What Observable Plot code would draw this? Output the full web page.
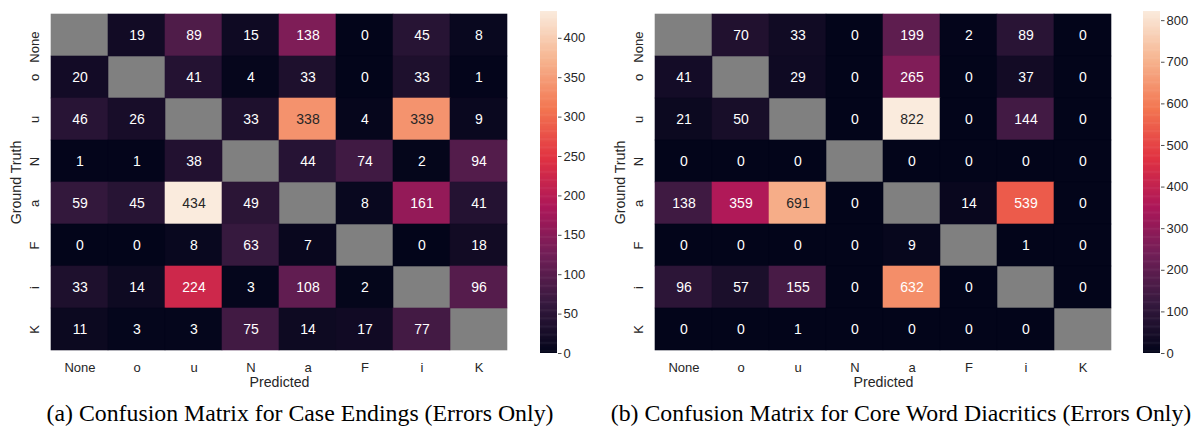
<!DOCTYPE html>
<html><head><meta charset="utf-8">
<script src="https://cdn.jsdelivr.net/npm/d3@7"></script>
<script src="https://cdn.jsdelivr.net/npm/@observablehq/plot@0.6"></script>
<style>
html,body{margin:0;padding:0;background:#fff;}
#root{position:relative;width:1199px;height:431px;overflow:hidden;background:#fff;}
#root svg{position:absolute;top:0;}
.cap{position:absolute;top:402px;width:640px;font-family:"Liberation Serif","Times New Roman",serif;font-size:23.8px;line-height:23.8px;white-space:nowrap;text-align:center;color:#000;}
</style></head><body><div id="root"></div>
<script>
// ---- data ----
const labels = ["None", "o", "u", "N", "a", "F", "i", "K"];
// rows = ground truth, columns = predicted; null = diagonal (masked)
const caseEndings = [
  [null, 19, 89, 15, 138, 0, 45, 8],
  [20, null, 41, 4, 33, 0, 33, 1],
  [46, 26, null, 33, 338, 4, 339, 9],
  [1, 1, 38, null, 44, 74, 2, 94],
  [59, 45, 434, 49, null, 8, 161, 41],
  [0, 0, 8, 63, 7, null, 0, 18],
  [33, 14, 224, 3, 108, 2, null, 96],
  [11, 3, 3, 75, 14, 17, 77, null]
];
const coreWord = [
  [null, 70, 33, 0, 199, 2, 89, 0],
  [41, null, 29, 0, 265, 0, 37, 0],
  [21, 50, null, 0, 822, 0, 144, 0],
  [0, 0, 0, null, 0, 0, 0, 0],
  [138, 359, 691, 0, null, 14, 539, 0],
  [0, 0, 0, 0, 9, null, 1, 0],
  [96, 57, 155, 0, 632, 0, null, 0],
  [0, 0, 1, 0, 0, 0, 0, null]
];
const ticksA = [0, 50, 100, 150, 200, 250, 300, 350, 400];
const ticksB = [0, 100, 200, 300, 400, 500, 600, 700, 800];
const captionA = "(a) Confusion Matrix for Case Endings (Errors Only)";
const captionB = "(b) Confusion Matrix for Core Word Diacritics (Errors Only)";
const xLabel = "Predicted";
const yLabel = "Ground Truth";

// ---- styling ----
const rocket = d3.piecewise(d3.interpolateRgb,
  ["#03051a", "#35193e", "#701f57", "#ad1759", "#e13342", "#f37651", "#f6b48f", "#faebdd"]);
const SANS = "'Liberation Sans', Arial, Helvetica, sans-serif";
const INK = "#262626";

function heatmap(matrix) {
  const data = [];
  matrix.forEach((row, i) => row.forEach((v, j) => data.push({truth: labels[i], pred: labels[j], v})));
  const valid = data.filter(d => d.v != null);
  const diag = data.filter(d => d.v == null);
  const max = d3.max(valid, d => d.v);
  const light = d => d.v / max >= 0.773;
  return Plot.plot({
    width: 520, height: 400,
    marginLeft: 48, marginRight: 10, marginTop: 11, marginBottom: 47,
    style: {fontFamily: SANS, color: INK, background: "transparent", overflow: "visible"},
    x: {domain: labels, padding: 0, axis: null},
    y: {domain: labels, padding: 0, axis: null},
    color: {type: "linear", domain: [0, max], interpolate: rocket},
    marks: [
      Plot.cell(diag, {x: "pred", y: "truth", fill: "#808080", stroke: "#808080", strokeWidth: 0.6}),
      Plot.cell(valid, {x: "pred", y: "truth", fill: "v", stroke: "v", strokeWidth: 0.6}),
      Plot.text(valid.filter(d => !light(d)), {x: "pred", y: "truth", text: d => String(d.v), fill: "white", fontSize: 14}),
      Plot.text(valid.filter(light), {x: "pred", y: "truth", text: d => String(d.v), fill: INK, fontSize: 14}),
      Plot.text(labels, {x: d => d, text: d => d, frameAnchor: "bottom", dy: 14, lineAnchor: "middle", fontSize: 13, fill: INK}),
      Plot.text(labels.filter(l => l !== "None"), {y: d => d, text: d => d, frameAnchor: "left", dx: -14, rotate: -90, textAnchor: "middle", lineAnchor: "middle", fontSize: 13, fill: INK}),
      Plot.text(labels.filter(l => l === "None"), {y: d => d, text: d => d, frameAnchor: "left", dx: -14, dy: 11.6, rotate: -90, textAnchor: "middle", lineAnchor: "middle", fontSize: 13, fill: INK}),
      Plot.text([xLabel], {text: d => d, frameAnchor: "bottom", dy: 28.7, lineAnchor: "middle", fontSize: 14.2, fill: INK}),
      Plot.text([yLabel], {text: d => d, frameAnchor: "left", dx: -32, rotate: -90, textAnchor: "middle", lineAnchor: "middle", fontSize: 14.2, fill: INK})
    ]
  });
}

function colorbar(matrix, ticks, width, marginRight) {
  const max = d3.max(matrix.flat().filter(v => v != null));
  const n = 300, step = max / n;
  const bins = d3.range(n).map(i => i * step);
  return Plot.plot({
    width, height: 400,
    marginLeft: 20, marginRight, marginTop: 11, marginBottom: 47,
    style: {fontFamily: SANS, color: INK, background: "transparent", overflow: "visible"},
    x: {domain: [0, 1], axis: null},
    y: {domain: [0, max]},
    color: {type: "linear", domain: [0, max], interpolate: rocket},
    marks: [
      Plot.rect(bins, {x1: 0, x2: 1, y1: d => d, y2: d => Math.min(max, d + step * 1.5), fill: d => d + step / 2}),
      Plot.axisY({anchor: "right", ticks, tickSize: 3.5, tickPadding: 2.5, fontSize: 13, label: null, tickFormat: d => String(d), stroke: INK, strokeOpacity: 0.8})
    ]
  });
}

const root = document.getElementById("root");
const hA = heatmap(caseEndings); hA.style.left = "0px"; root.appendChild(hA);
const cA = colorbar(caseEndings, ticksA, 80, 43); cA.style.left = "520px"; root.appendChild(cA);
const hB = heatmap(coreWord); hB.style.left = "604px"; root.appendChild(hB);
const cB = colorbar(coreWord, ticksB, 76, 39); cB.style.left = "1123px"; root.appendChild(cB);

for (const [text, center] of [[captionA, 300], [captionB, 901]]) {
  const div = document.createElement("div");
  div.className = "cap";
  div.textContent = text;
  div.style.left = (center - 320) + "px";
  root.appendChild(div);
}
</script></body></html>
